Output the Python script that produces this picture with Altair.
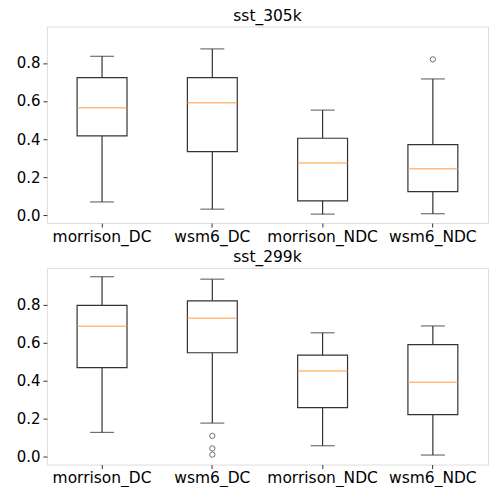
import altair as alt
import pandas as pd

categories = ["morrison_DC", "wsm6_DC", "morrison_NDC", "wsm6_NDC"]

# sst_305k panel
t305_lo = [0.069, 0.031, 0.005, 0.007]
t305_q1 = [0.416, 0.334, 0.075, 0.123]
t305_med = [0.565, 0.591, 0.274, 0.243]
t305_q3 = [0.723, 0.723, 0.404, 0.370]
t305_hi = [0.835, 0.874, 0.552, 0.716]
t305_out_cat = ["wsm6_NDC"]
t305_out_val = [0.819]

# sst_299k panel
t299_lo = [0.127, 0.176, 0.057, 0.008]
t299_q1 = [0.468, 0.546, 0.257, 0.221]
t299_med = [0.685, 0.728, 0.450, 0.391]
t299_q3 = [0.795, 0.819, 0.534, 0.589]
t299_hi = [0.946, 0.933, 0.651, 0.687]
t299_out_cat = ["wsm6_DC", "wsm6_DC", "wsm6_DC"]
t299_out_val = [0.109, 0.043, 0.010]

y_ticks = [0.0, 0.2, 0.4, 0.6, 0.8]
y_domain = [-0.042, 0.992]

FONT = "DejaVu Sans"
W, H = 442, 197


def panel(title, lo, q1, med, q3, hi, out_cat, out_val):
    df = pd.DataFrame({"cat": categories, "lo": lo, "q1": q1, "med": med, "q3": q3, "hi": hi})
    odf = pd.DataFrame({"cat": out_cat, "v": out_val})
    x = alt.X("cat:N", sort=categories, title=None,
              scale=alt.Scale(paddingInner=0, paddingOuter=0),
              axis=alt.Axis(labelAngle=0, labelFont=FONT, labelFontSize=15.5, labelColor="black",
                            tickColor="#333", tickSize=4, labelPadding=2, domain=False, grid=False))
    yscale = alt.Scale(domain=y_domain, nice=False, zero=False)
    yaxis = alt.Axis(values=y_ticks, format=".1f", labelFont=FONT, labelFontSize=15,
                     labelColor="black", tickColor="#333", tickSize=4, labelPadding=3,
                     domain=False, grid=False, minExtent=38, maxExtent=38)
    base = alt.Chart(df)
    whisk = base.mark_rule(color="#333", strokeWidth=1.2).encode(
        x=x, y=alt.Y("lo:Q", scale=yscale, axis=yaxis, title=None), y2="hi:Q")
    box = base.mark_bar(size=50, fill="white", stroke="#333", strokeWidth=1.2).encode(
        x=x, y=alt.Y("q1:Q", scale=yscale), y2="q3:Q")
    medt = base.mark_tick(size=50, thickness=1.5, color="#ffa04a").encode(
        x=x, y=alt.Y("med:Q", scale=yscale))
    caplo = base.mark_tick(size=24, thickness=1.2, color="#333").encode(
        x=x, y=alt.Y("lo:Q", scale=yscale))
    caphi = base.mark_tick(size=24, thickness=1.2, color="#333").encode(
        x=x, y=alt.Y("hi:Q", scale=yscale))
    outl = alt.Chart(odf).mark_point(shape="circle", filled=False, size=28, color="#333",
                                     strokeWidth=1).encode(
        x=x, y=alt.Y("v:Q", scale=yscale))
    return alt.layer(whisk, box, medt, caplo, caphi, outl).properties(
        width=W, height=H,
        title=alt.TitleParams(title, font=FONT, fontSize=15.5, fontWeight="normal",
                              color="black", anchor="middle", offset=2))


top = panel("sst_305k", t305_lo, t305_q1, t305_med, t305_q3, t305_hi, t305_out_cat, t305_out_val)
bottom = panel("sst_299k", t299_lo, t299_q1, t299_med, t299_q3, t299_hi, t299_out_cat, t299_out_val)

chart = alt.vconcat(top, bottom, spacing=5).properties(padding=0).configure_view(
    stroke="#333", strokeWidth=1.2).configure(background="white")

chart.save("out.html", embed_options={"renderer": "svg", "actions": False})
